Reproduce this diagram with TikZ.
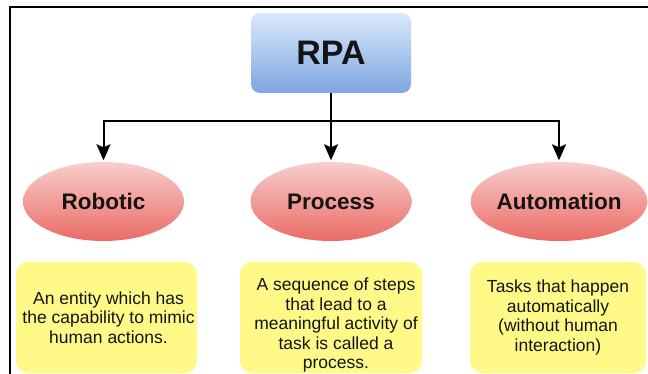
\documentclass[tikz,border=0pt]{standalone}
\usepackage{fontspec}
\setmainfont{Liberation Sans}
\usetikzlibrary{shapes.geometric,arrows.meta}
\definecolor{bluetop}{RGB}{218,232,252}
\definecolor{bluebot}{RGB}{126,166,224}
\definecolor{pinktop}{RGB}{248,206,204}
\definecolor{pinkbot}{RGB}{234,107,102}
\definecolor{notey}{RGB}{255,250,136}
\definecolor{txt}{RGB}{20,20,20}
\tikzset{
  rootbox/.style={rectangle, rounded corners=9pt, minimum width=160pt, minimum height=80pt,
    inner sep=0pt, top color=bluetop, bottom color=bluebot, draw=none,
    font=\fontsize{34}{36}\selectfont\bfseries, text=txt},
  wordell/.style={ellipse, minimum width=161pt, minimum height=79pt, inner sep=0pt,
    top color=pinktop, bottom color=pinkbot, draw=none,
    font=\fontsize{22.5}{25}\selectfont\bfseries, text=txt},
  notebox/.style={rectangle, rounded corners=12pt, minimum height=111pt, inner sep=0pt,
    fill=notey, draw=none, align=center,
    font=\fontsize{17.5}{19.5}\selectfont, text=txt},
  conn/.style={line width=2pt, black},
  arr/.style={conn, -{Stealth[width=14pt,length=16pt,inset=3pt]}, shorten >=1.5pt},
  frame/.style={line width=2.8pt, black}
}
\begin{document}
\begin{tikzpicture}[x=1pt,y=-1pt]
\useasboundingbox (0,0) rectangle (648,374);
% screenshot frame
\coordinate (fa) at (10,374);
\coordinate (fb) at (10,7);
\coordinate (fc) at (648,7);
\draw[frame] (fa) -- (fb) -- (fc);

\node[rootbox] (rpa) at (331,53) {RPA};

\node[wordell] (rob) at (103.5,201.5) {Robotic};
\node[wordell] (pro) at (331,201.5) {Process};
\node[wordell] (aut) at (559,201.5) {Automation};

\coordinate (j) at (331,121);
\draw[conn] (rpa.south) -- (j);
\draw[arr] (j) -| (rob.north);
\draw[arr] (j) -- (pro.north);
\draw[arr] (j) -| (aut.north);

\node[notebox, minimum width=181pt] (n1) at (106.5,317.5)
  {\hspace*{4pt}An entity which has\\\hspace*{4pt}the capability to mimic\\\hspace*{4pt}human actions.};
\node[notebox, minimum width=182pt] (n2) at (331,317.5)
  {\rule{0pt}{28.5pt}\hspace*{10pt}A sequence of steps\\\hspace*{10pt}that lead to a\\\hspace*{10pt}meaningful activity of\\\hspace*{10pt}task is called a\\\hspace*{10pt}process.};
\node[notebox, minimum width=176pt] (n3) at (558,317.5)
  {Tasks that happen\\automatically\\(without human\\interaction)};
\end{tikzpicture}
\end{document}
